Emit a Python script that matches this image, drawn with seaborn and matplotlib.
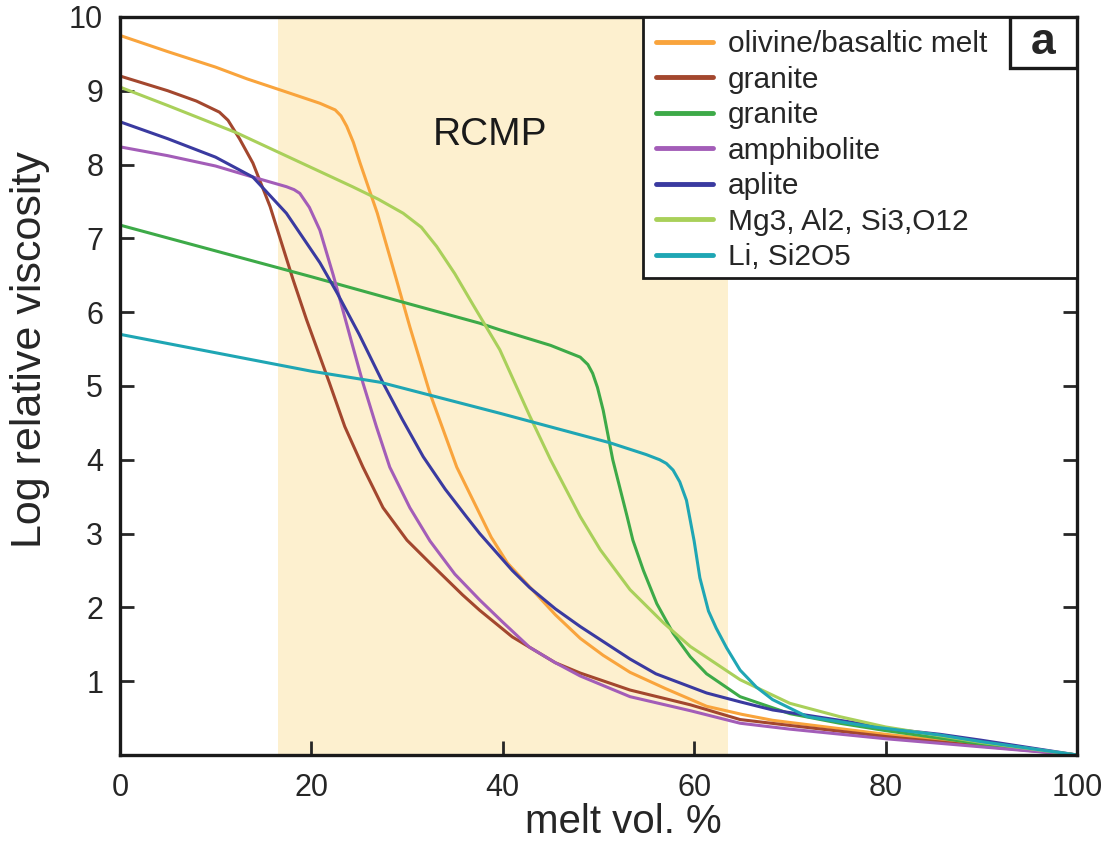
import matplotlib
matplotlib.use("Agg")
import matplotlib.pyplot as plt
import matplotlib.patches as patches
import seaborn as sns

# curves: melt vol. % vs log relative viscosity
olivine_x = [0, 5, 10, 13.3, 17, 20.9, 22.5, 23.1, 23.7, 24.4, 25.1, 26.9, 28.9, 30.3, 32.4, 35.2, 38.8,
             40.5, 42.8, 45.5, 48.1, 50.5, 53.3, 57, 61.3, 65, 68.2, 75, 80, 90, 100]
olivine_y = [9.75, 9.53, 9.32, 9.16, 9.0, 8.83, 8.74, 8.66, 8.52, 8.3, 8.02, 7.34, 6.44, 5.8, 4.9, 3.9, 2.95,
             2.6, 2.28, 1.9, 1.58, 1.35, 1.12, 0.9, 0.66, 0.55, 0.47, 0.36, 0.28, 0.14, 0.0]

granite1_x = [0, 5, 8, 10.4, 11.3, 12.5, 13.9, 15.7, 18.1, 19.5, 21.9, 23.5, 25.4, 27.5, 30, 32.4, 35.8,
              37.6, 41, 42.8, 45.5, 48.1, 53.3, 59.6, 64.8, 70, 80, 90, 100]
granite1_y = [9.2, 9.0, 8.86, 8.71, 8.6, 8.35, 8.02, 7.43, 6.44, 5.9, 5.04, 4.45, 3.9, 3.35, 2.91, 2.6, 2.17,
              1.96, 1.6, 1.46, 1.25, 1.11, 0.88, 0.68, 0.48, 0.4, 0.25, 0.12, 0.0]

granite2_x = [0, 10, 20, 30, 37.6, 39.7, 45, 48.1, 48.9, 49.4, 49.9, 50.5, 51.5, 53, 53.6, 54.7, 56.1,
              57.8, 59.6, 61.3, 64.8, 70, 75.2, 80, 90, 100]
granite2_y = [7.18, 6.83, 6.48, 6.12, 5.85, 5.76, 5.55, 5.39, 5.29, 5.17, 4.98, 4.67, 4.0, 3.23, 2.91, 2.5,
              2.05, 1.65, 1.33, 1.1, 0.79, 0.56, 0.43, 0.33, 0.15, 0.0]

amphibolite_x = [0, 5, 10, 13.9, 17.4, 18.2, 18.8, 19.8, 20.9, 22.3, 23, 24.2, 25.4, 26.8, 28.2, 30.3, 32.4,
                 35, 37.6, 40, 42.8, 45.5, 48.1, 53.3, 59.6, 64.8, 70, 80, 90, 100]
amphibolite_y = [8.24, 8.12, 7.98, 7.83, 7.7, 7.66, 7.61, 7.42, 7.11, 6.5, 6.17, 5.6, 5.04, 4.45, 3.9, 3.35,
                 2.9, 2.45, 2.1, 1.8, 1.46, 1.25, 1.07, 0.79, 0.6, 0.43, 0.35, 0.22, 0.11, 0.0]

aplite_x = [0, 5, 10, 13.9, 17.4, 20.9, 22.7, 25, 27.5, 29.5, 31.7, 34, 36.2, 37.6, 41, 42.8, 45.5, 48.1,
            53.3, 56, 61.3, 64.8, 68.2, 75.2, 81.4, 85.7, 90, 100]
aplite_y = [8.58, 8.35, 8.1, 7.83, 7.34, 6.67, 6.26, 5.7, 5.04, 4.55, 4.04, 3.6, 3.23, 3.0, 2.5, 2.27, 1.98,
            1.74, 1.3, 1.1, 0.84, 0.72, 0.61, 0.47, 0.34, 0.28, 0.2, 0.0]

mg_x = [0, 5, 12.2, 18, 24.3, 27, 29.6, 31.5, 33.1, 35, 36.9, 39.7, 42.8, 45, 48.1, 50.2, 53.3, 56.8,
        59.6, 64.8, 70, 75.2, 80, 90, 100]
mg_y = [9.05, 8.8, 8.43, 8.08, 7.7, 7.53, 7.34, 7.15, 6.89, 6.52, 6.1, 5.49, 4.6, 4.0, 3.23, 2.78, 2.24,
        1.79, 1.47, 1.02, 0.7, 0.52, 0.38, 0.17, 0.0]

li_x = [0, 10, 20, 27.2, 39.7, 51.2, 55, 56.4, 57.1, 57.8, 58.5, 59.2, 60, 60.6, 61.5, 62.3, 63.4, 64.8,
        66.5, 68.2, 71.8, 78.7, 85.7, 90, 100]
li_y = [5.7, 5.45, 5.2, 5.05, 4.63, 4.23, 4.07, 4.0, 3.95, 3.86, 3.7, 3.45, 2.9, 2.4, 1.95, 1.72, 1.45, 1.15,
        0.92, 0.75, 0.52, 0.38, 0.27, 0.18, 0.0]

labels = ["olivine/basaltic melt", "granite", "granite", "amphibolite", "aplite",
          "Mg3, Al2, Si3,O12", "Li, Si2O5"]
colors = ["#F9A43C", "#A3472E", "#3DAA48", "#A35DB8", "#3A3AA0", "#A9D05A", "#1FA6B4"]
series = [(olivine_x, olivine_y), (granite1_x, granite1_y), (granite2_x, granite2_y),
          (amphibolite_x, amphibolite_y), (aplite_x, aplite_y), (mg_x, mg_y), (li_x, li_y)]

rcmp_range = (16.5, 63.5)

sns.set_style("ticks")
plt.rcParams["font.family"] = ["Liberation Sans", "DejaVu Sans"]

fig = plt.figure(figsize=(11.2, 8.46), dpi=100)
ax = fig.add_axes([0.107, 0.1076, 0.8546, 0.8724])

ax.axvspan(rcmp_range[0], rcmp_range[1], color="#FDF0CF", lw=0, zorder=0)

for (xs, ys), lab, col in zip(series, labels, colors):
    sns.lineplot(x=xs, y=ys, color=col, lw=2.2, label=lab, ax=ax, estimator=None, sort=False)

ax.set_xlim(0, 100)
ax.set_ylim(0, 10)
ax.set_xticks([0, 20, 40, 60, 80, 100])
ax.set_yticks(range(1, 11))
ax.tick_params(direction="in", length=10, width=2, labelsize=22, pad=12,
               left=True, right=True, top=False, bottom=True)
ax.tick_params(axis="x", pad=13)
for sp in ax.spines.values():
    sp.set_linewidth(2.4)
    sp.set_color("#1a1a1a")

ax.set_xlabel("melt vol. %", fontsize=29)
ax.set_ylabel("Log relative viscosity", fontsize=31)
ax.xaxis.set_label_coords(0.526, -0.065)
ax.yaxis.set_label_coords(-0.073, 0.549)

ax.text(38.7, 8.4, "RCMP", fontsize=28, ha="center", va="center", color="#1a1a1a")

# legend frame drawn by hand so it reaches the right edge
box = patches.Rectangle((0.5465, 0.6463), 0.4535, 0.3537, transform=ax.transAxes,
                        facecolor="white", edgecolor="#1a1a1a", lw=2, zorder=4)
ax.add_patch(box)
leg = ax.legend(loc="upper left", bbox_to_anchor=(0.5465, 1.0), frameon=False, fontsize=21.5,
                handlelength=1.9, handletextpad=0.5, labelspacing=0.25, borderpad=0.45,
                borderaxespad=0)
leg.set_zorder(5)
for h in leg.get_lines():
    h.set_linewidth(3.5)

ax.text(0.965, 0.9655, "a", transform=ax.transAxes, fontsize=32, fontweight="bold",
        ha="center", va="center", zorder=7)
abox = patches.Rectangle((0.930, 0.931), 0.07, 0.069, transform=ax.transAxes,
                         facecolor="white", edgecolor="#1a1a1a", lw=2.4, zorder=6)
ax.add_patch(abox)

fig.savefig("out.png", dpi=100)
